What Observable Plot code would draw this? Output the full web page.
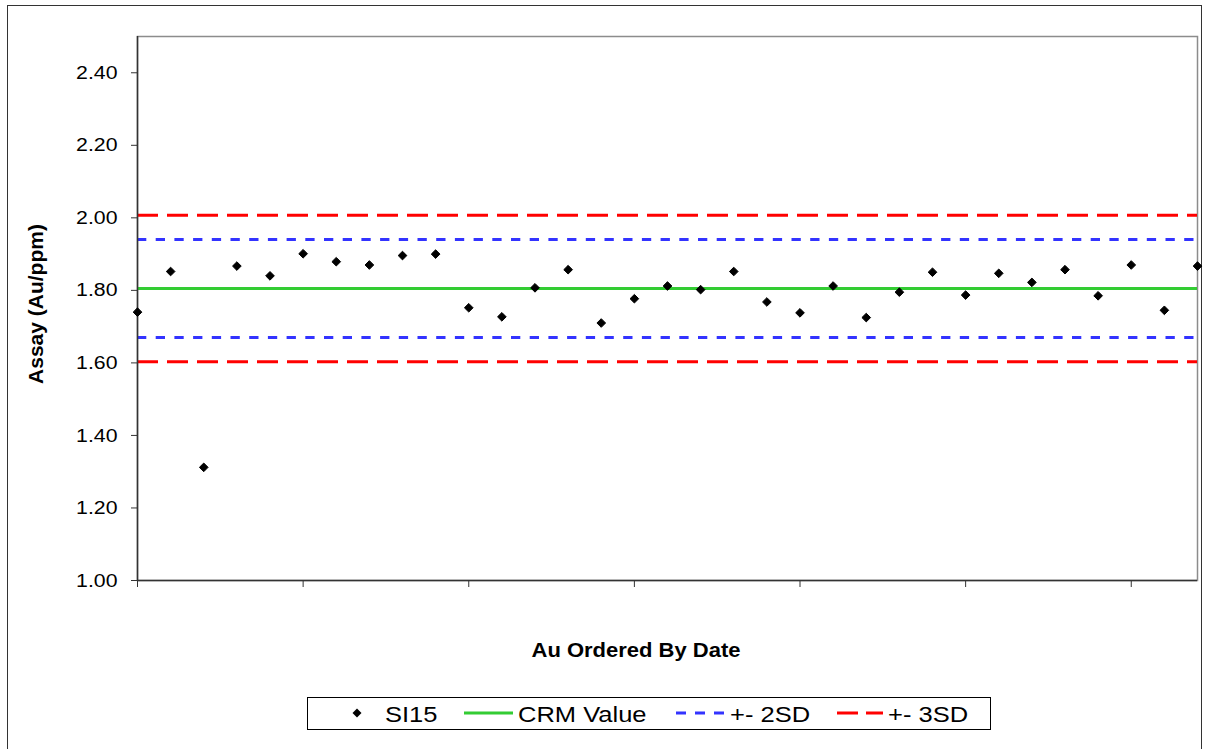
<!DOCTYPE html>
<html>
<head>
<meta charset="utf-8">
<script src="https://cdn.jsdelivr.net/npm/d3@7"></script>
<script src="https://cdn.jsdelivr.net/npm/@observablehq/plot@0.6"></script>
<style>
  html, body { margin: 0; padding: 0; background: #fff; }
  #wrap { position: relative; width: 1206px; height: 749px; overflow: hidden; background: #fff;
          font-family: "Liberation Sans", Arial, sans-serif; }
  #outer { position: absolute; left: 7px; top: 5px; width: 1195px; height: 800px; border: 1px solid #333; box-sizing: border-box; }
  #chart { position: absolute; left: 0; top: 0; }
  #overlay { position: absolute; left: 0; top: 0; }
</style>
</head>
<body>
<div id="wrap">
  <div id="outer"></div>
  <div id="chart"></div>
  <svg id="overlay" width="1206" height="749" xmlns="http://www.w3.org/2000/svg"></svg>
</div>
<script>
// ---- data ----
const sampleIndex = [1, 2, 3, 4, 5, 6, 7, 8, 9, 10, 11, 12, 13, 14, 15, 16, 17, 18, 19, 20,
                     21, 22, 23, 24, 25, 26, 27, 28, 29, 30, 31, 32, 33];
const assayValues = [1.740, 1.852, 1.312, 1.867, 1.840, 1.901, 1.879, 1.870, 1.896, 1.900,
                     1.752, 1.727, 1.807, 1.857, 1.710, 1.777, 1.812, 1.802, 1.852, 1.768,
                     1.738, 1.812, 1.725, 1.795, 1.850, 1.787, 1.847, 1.822, 1.857, 1.785,
                     1.870, 1.745, 1.867];
const crmValue = 1.805;
const limits2SD = [1.670, 1.940];
const limits3SD = [1.603, 2.007];
const yTicks = [1.00, 1.20, 1.40, 1.60, 1.80, 2.00, 2.20, 2.40];
const xTicks = [1, 6, 11, 16, 21, 26, 31];
const xDomain = [1, 33];
const yDomain = [1.0, 2.5];
const legendLabels = ["SI15", "CRM Value", "+- 2SD", "+- 3SD"];
const xTitle = "Au Ordered By Date";
const yTitle = "Assay (Au/ppm)";

const data = sampleIndex.map((i, k) => ({i, v: assayValues[k]}));

const GREEN = "#33cc33", BLUE = "#3333ff", RED = "#ff0000";

const chart = Plot.plot({
  width: 1206,
  height: 600,
  marginLeft: 137,
  marginRight: 9,
  marginTop: 36,
  marginBottom: 20,
  x: {domain: xDomain, axis: null},
  y: {domain: yDomain, axis: null},
  style: {fontFamily: "'Liberation Sans', Arial, sans-serif", fontSize: "19px", color: "#000", background: "transparent"},
  marks: [
    Plot.frame({stroke: "#8c8c8c", strokeWidth: 1.5}),
    Plot.ruleY(limits3SD, {stroke: RED, strokeWidth: 3, strokeDasharray: "21,9"}),
    Plot.ruleY(limits2SD, {stroke: BLUE, strokeWidth: 3, strokeDasharray: "9.3,9.4"}),
    Plot.ruleY([crmValue], {stroke: GREEN, strokeWidth: 3}),
    Plot.axisY({ticks: yTicks, tickFormat: d3.format(".2f"), tickSize: 6, tickPadding: 14, fontSize: 19, label: null, stroke: "#333"}),
    Plot.axisX({ticks: xTicks, tickFormat: () => "", tickSize: 7, label: null, stroke: "#333"}),
    Plot.ruleX([xDomain[0]], {stroke: "#333", strokeWidth: 1.5}),
    Plot.ruleY([yDomain[0]], {stroke: "#333", strokeWidth: 1.5}),
    Plot.dot(data, {x: "i", y: "v", symbol: "diamond2", r: 3.9, fill: "#000", stroke: "#000", strokeWidth: 1})
  ]
});
document.getElementById("chart").appendChild(chart);

// widen tick labels slightly to match the reference's stretched text
d3.select(chart).selectAll('g[aria-label="y-axis tick label"] text').each(function() {
  const t = this.getAttribute("transform");
  if (t) this.setAttribute("transform", t + " scale(1.12,1)");
});

// ---- titles and legend ----
const ov = d3.select("#overlay");
const font = "'Liberation Sans', Arial, sans-serif";

ov.append("text")
  .attr("transform", "translate(43,304) rotate(-90)")
  .attr("text-anchor", "middle")
  .attr("font-family", font).attr("font-weight", "bold").attr("font-size", 21)
  .text(yTitle);

ov.append("text")
  .attr("transform", "translate(636,657) scale(1.1,1)")
  .attr("text-anchor", "middle")
  .attr("font-family", font).attr("font-weight", "bold").attr("font-size", 20)
  .text(xTitle);

const lg = ov.append("g");
lg.append("rect").attr("x", 307.5).attr("y", 697.5).attr("width", 683).attr("height", 32)
  .attr("fill", "#fff").attr("stroke", "#000").attr("stroke-width", 1);
const cy = 713;
lg.append("path").attr("d", `M357,${cy-4.5}L361.5,${cy}L357,${cy+4.5}L352.5,${cy}Z`).attr("fill", "#000");
lg.append("line").attr("x1", 464).attr("x2", 513).attr("y1", cy).attr("y2", cy)
  .attr("stroke", GREEN).attr("stroke-width", 3);
lg.append("line").attr("x1", 676).attr("x2", 724).attr("y1", cy).attr("y2", cy)
  .attr("stroke", BLUE).attr("stroke-width", 3).attr("stroke-dasharray", "10,9");
lg.append("line").attr("x1", 837).attr("x2", 883).attr("y1", cy).attr("y2", cy)
  .attr("stroke", RED).attr("stroke-width", 3).attr("stroke-dasharray", "21,8");
const textX = [385, 518, 730, 888];
legendLabels.forEach((lab, k) => {
  lg.append("text")
    .attr("transform", `translate(${textX[k]},721.5) scale(1.16,1)`)
    .attr("font-family", font).attr("font-size", 22)
    .text(lab);
});
</script>
</body>
</html>
